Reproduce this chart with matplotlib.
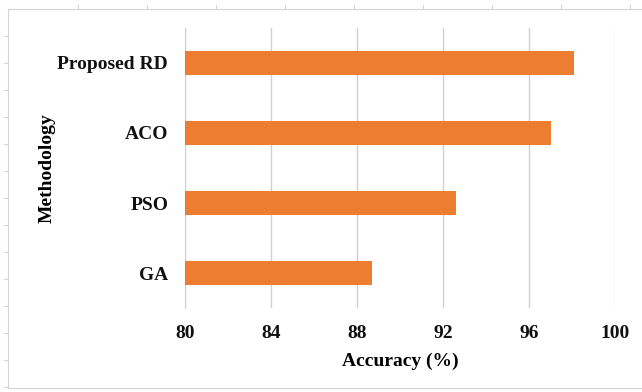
import matplotlib.pyplot as plt
from matplotlib.lines import Line2D

methods = ["GA", "PSO", "ACO", "Proposed RD"]
accuracy = [88.7, 92.6, 97.0, 98.1]
xticks = [80, 84, 88, 92, 96, 100]

plt.rcParams["font.family"] = ["Liberation Serif", "DejaVu Serif"]
plt.rcParams["font.weight"] = "bold"

fig = plt.figure(figsize=(6.42, 3.92), dpi=100)
ax = fig.add_axes([0.288, 0.214, 0.67, 0.715])

ax.barh(methods, accuracy, height=0.35, color="#ED7D31", zorder=3)

ax.set_xlim(80, 100)
ax.set_ylim(-0.5, 3.5)
ax.set_xticks(xticks)
ax.xaxis.grid(True, color="#d0d0d0", linewidth=1)
ax.set_axisbelow(True)

for s in ["top", "right", "bottom"]:
    ax.spines[s].set_visible(False)
ax.spines["left"].set_color("#d0d0d0")

ax.tick_params(axis="both", length=0, labelsize=14, labelcolor="#111111")
ax.tick_params(axis="x", pad=12)
ax.tick_params(axis="y", pad=12)
for lab in ax.get_xticklabels() + ax.get_yticklabels():
    lab.set_fontweight("bold")

ax.set_xlabel("Accuracy (%)", fontsize=14, fontweight="bold", labelpad=8)
ax.set_ylabel("Methodology", fontsize=14, fontweight="bold", labelpad=0)
ax.yaxis.set_label_coords(-0.3, 0.5)

# outer frame from the spreadsheet screenshot
W, H = 642, 392
fx = lambda p: p / W
fy = lambda p: 1 - p / H
frame = "#d4d4d4"
fig.add_artist(Line2D([fx(8), fx(642)], [fy(9), fy(9)], color=frame, lw=0.8))
fig.add_artist(Line2D([fx(8), fx(642)], [fy(388), fy(388)], color=frame, lw=0.8))
fig.add_artist(Line2D([fx(8), fx(8)], [fy(9), fy(388)], color=frame, lw=0.8))
for tx in range(78, 642, 69):
    fig.add_artist(Line2D([fx(tx), fx(tx)], [fy(5), fy(9)], color=frame, lw=0.8))
for ty in range(36, 388, 27):
    fig.add_artist(Line2D([fx(4), fx(8)], [fy(ty), fy(ty)], color=frame, lw=0.8))

fig.savefig("out.png", dpi=100)
